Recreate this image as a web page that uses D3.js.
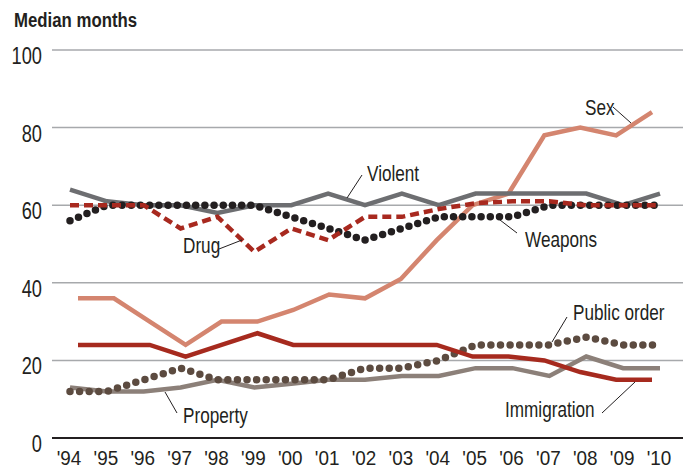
<!DOCTYPE html>
<html>
<head>
<meta charset="utf-8">
<script src="https://cdn.jsdelivr.net/npm/d3@7"></script>
<style>
  html, body { margin: 0; padding: 0; background: #fff; }
  svg { display: block; }
  text { font-family: 'Liberation Sans', Arial, sans-serif; fill: #231f20; }
</style>
</head>
<body>
<svg id="chart" width="683" height="468"></svg>
<script>
const years = [1994,1995,1996,1997,1998,1999,2000,2001,2002,2003,2004,2005,2006,2007,2008,2009,2010];
const yearLabels = ["'94","'95","'96","'97","'98","'99","'00","'01","'02","'03","'04","'05","'06","'07","'08","'09","'10"];
const yTicks = [0,20,40,60,80,100];

const violent     = [64,61,60,60,58,60,60,63,60,63,60,63,63,63,63,60,63];
const drug        = [60,60,60,54,57,48,54,51,57,57,59,60.5,61,61,60,60,60];
const weapons     = [56,60,60,60,60,60,57,54,51,54,57,57,57,60,60,60,60];
const sex         = [36,36,30,24,30,30,33,37,36,41,51,60,63,78,80,78,84];
const immigration = [24,24,24,21,24,27,24,24,24,24,24,21,21,20,17,15,15];
const publicOrder = [12,12,15,18,15,15,15,15,18,18,20,24,24,24,26,24,24];
const property    = [13,12,12,13,15,13,14,15,15,16,16,18,18,16,21,18,18];

const svg = d3.select("#chart");
const x = d3.scaleLinear().domain([1994, 2010]).range([70, 660]);
const xNarrow = x.copy().range([78, 652]);
const y = d3.scaleLinear().domain([0, 100]).range([438, 50]);

// condensed text helper (horizontal scale of a real text element)
function addText(parent, tx, ty, str, size, anchor, sx, weight) {
  return parent.append("text")
    .attr("transform", `translate(${tx},${ty}) scale(${sx},1)`)
    .attr("text-anchor", anchor || "start")
    .attr("font-size", size)
    .attr("font-weight", weight || "normal")
    .text(str);
}

// gridlines
svg.append("g").selectAll("line").data(yTicks.filter(t => t > 0)).join("line")
  .attr("x1", 52).attr("x2", 683)
  .attr("y1", d => y(d)).attr("y2", d => y(d))
  .attr("stroke", "#a7a9ac").attr("stroke-width", 1.5);

// y tick labels
const gy = svg.append("g");
yTicks.forEach(t => addText(gy, 42, y(t) + 14, String(t), 24, "end", 0.76));

// x axis labels
const gx = svg.append("g");
years.forEach((yr, i) => addText(gx, x(yr) - 1, 465, yearLabels[i], 21, "middle", 0.9));

// title
addText(svg, 14, 27, "Median months", 21, "start", 0.8, "bold");

const series = [
  { values: property,    xs: x,       color: "#8c8079", width: 4.5, dash: null },
  { values: publicOrder, xs: x,       color: "#5c4b40", width: 7.5, dash: "0,9.6" },
  { values: immigration, xs: xNarrow, color: "#a62a1e", width: 4.5, dash: null },
  { values: sex,         xs: xNarrow, color: "#d4856f", width: 4.5, dash: null },
  { values: violent,     xs: x,       color: "#6d6e71", width: 4.5, dash: null },
  { values: weapons,     xs: x,       color: "#231f20", width: 7.5, dash: "0,9.2" },
  { values: drug,        xs: x,       color: "#a8291f", width: 4.5, dash: "9,5" }
];

series.forEach(s => {
  const line = d3.line().x((d, i) => s.xs(years[i])).y(d => y(d));
  svg.append("path").datum(s.values)
    .attr("d", line)
    .attr("fill", "none")
    .attr("stroke", s.color)
    .attr("stroke-width", s.width)
    .attr("stroke-linejoin", "miter")
    .attr("stroke-linecap", s.dash && s.dash.startsWith("0") ? "round" : "butt")
    .attr("stroke-dasharray", s.dash);
});

// x axis baseline
svg.append("line").attr("x1", 52).attr("x2", 683)
  .attr("y1", y(0)).attr("y2", y(0))
  .attr("stroke", "#231f20").attr("stroke-width", 2.2);

// annotations
const labels = [
  { text: "Violent",      tx: 367, ty: 181, l: [362,175,347,198] },
  { text: "Sex",          tx: 585, ty: 115, l: [613,107,631,123] },
  { text: "Weapons",      tx: 525, ty: 247, l: [517,233,500,220] },
  { text: "Drug",         tx: 183, ty: 253, l: [219,249,242,240] },
  { text: "Property",     tx: 183, ty: 423, l: [177,413,165,392] },
  { text: "Public order", tx: 573, ty: 320, l: [567,317,552,342] },
  { text: "Immigration",  tx: 505, ty: 417, l: [602,413,635,382] }
];
const ga = svg.append("g");
labels.forEach(a => {
  ga.append("line").attr("x1", a.l[0]).attr("y1", a.l[1]).attr("x2", a.l[2]).attr("y2", a.l[3])
    .attr("stroke", "#231f20").attr("stroke-width", 1);
  addText(ga, a.tx, a.ty, a.text, 22, "start", 0.78);
});
</script>
</body>
</html>
